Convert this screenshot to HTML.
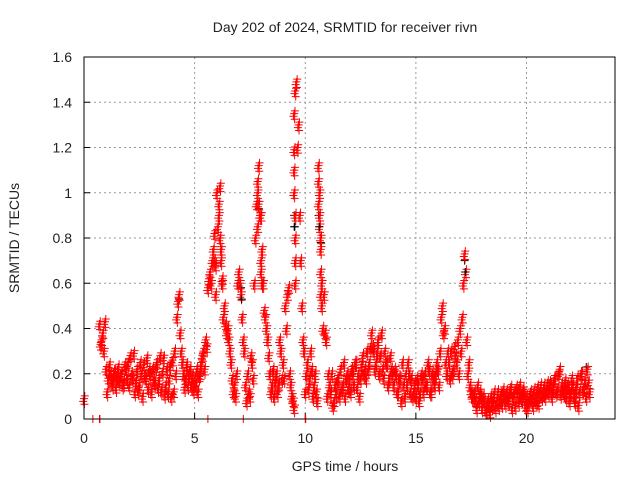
<!DOCTYPE html>
<html><head><meta charset="utf-8"><style>
body{margin:0;background:#fff}svg{display:block}
text{font-family:"Liberation Sans",sans-serif;font-size:14px;fill:#222}
</style></head><body>
<svg id="chart" width="640" height="480">
<text x="345" y="32" text-anchor="middle">Day 202 of 2024, SRMTID for receiver rivn</text>
<text x="345" y="471" text-anchor="middle">GPS time / hours</text>
<text x="19" y="238" text-anchor="middle" transform="rotate(-90 19 238)">SRMTID / TECUs</text>
<g id="grid"></g><g id="axes"></g><g id="marks"></g>
<rect x="84" y="57" width="531" height="362" fill="none" stroke="#000" stroke-width="1"/>
</svg>
<script>
const xTicks=[0,5,10,15,20];
const yTicks=[0,0.2,0.4,0.6,0.8,1,1.2,1.4,1.6];
const yTickLabels=["0","0.2","0.4","0.6","0.8","1","1.2","1.4","1.6"];
const startTime=0.7, timeStep=0.1;
const valuesA=[.42,.35,.30,
.22,.18,.20,.15,.21,.19,.17,.20,.16,.22,
.25,.28,.18,.12,.22,.15,.20,.24,.18,.14,
.20,.22,.16,.25,.18,.13,.27,.15,.12,.24,
.26,.30,.45,.55,.30,.20,.18,.15,.22,.19,
.17,.22,.19,.25,.30,.35,.58,.65,.70,.82,
1.0,.95,.75,.45,.42,.40,.30,.18,.15,.20,
.65,.55,.35,.15,.20,.10,.25,.60,.95,1.12,
.90,.60,.45,.35,.20,.15,.10,.20,.15,.30,
.25,.50,.55,.20,.10,.05,1.49,1.30,.70,.35,
.12,.25,.18,.22,.15,.12,1.12,.80,.40,.38,
.10,.15,.20,.08,.12,.18,.22,.15,.10,.20,
.18,.22,.15,.25,.20,.18,.28,.22,.30,.25,
.38,.30,.25,.35,.28,.22,.30,.25,.18,.22,
.15,.20,.12,.18,.25,.10,.15,.20,.18,.12,
.10,.15,.12,.18,.20,.15,.22,.12,.18,.20,
.22,.30,.50,.40,.20,.25,.30,.22,.28,.35,
.40,.45,.73,.35,.25,.12,.10,.08,.15,.12,
.05,.08,.04,.06,.10,.08,.05,.12,.09,.07,
.10,.12,.08,.14,.10,.06,.12,.15,.09,.11,
.10,.08,.12,.06,.10,.14,.12,.10,.15,.13,
.12,.15,.14,.18,.13,.22,.15,.12,.10,.14,
.12,.15,.08,.18,.12,.20,.14,.10,.16];
const valuesB=[.33,.38,.43,
.12,.24,.17,.21,.14,.23,.20,.15,.24,.18,
.15,.20,.29,.17,.13,.25,.10,.19,.27,.22,
.12,.17,.23,.14,.28,.21,.11,.22,.18,.10,
.12,.20,.52,.38,.25,.14,.24,.20,.15,.13,
.15,.12,.20,.28,.22,.32,.62,.60,.75,.68,
.85,1.03,.60,.50,.38,.35,.25,.12,.10,.60,
.60,.45,.30,.08,.12,.28,.18,.80,1.05,.90,
.75,.48,.40,.28,.12,.22,.17,.12,.35,.18,
.18,.40,.58,.15,.08,1.45,1.20,.90,.50,.30,
.20,.14,.30,.10,.20,.08,1.0,.60,.55,.35,
.20,.12,.06,.15,.18,.10,.13,.25,.18,.14,
.12,.20,.25,.14,.10,.24,.20,.18,.22,.32,
.32,.22,.30,.20,.38,.18,.25,.15,.28,.20,
.22,.12,.18,.08,.15,.20,.25,.12,.10,.16,
.18,.08,.20,.12,.15,.25,.12,.20,.15,.25,
.15,.45,.38,.25,.30,.18,.20,.32,.25,.20,
.30,.60,.65,.20,.15,.10,.12,.05,.08,.10,
.10,.04,.08,.03,.06,.12,.08,.06,.11,.13,
.07,.09,.13,.05,.12,.14,.08,.10,.13,.06,
.05,.11,.09,.13,.08,.07,.15,.12,.10,.16,
.16,.10,.18,.12,.20,.11,.13,.17,.15,.08,
.18,.10,.14,.06,.20,.13,.17,.22,.12];
const extraTimes=[0,0.4,0.7,0.72,5.6,7.2,10,10.02,6.1,6.15,6.2,6.25,7.85,7.85,7.9,9.5,9.5,9.5,9.5,9.55,9.55,9.55,9.55,10.6,10.6,10.65,10.65,10.7,10.7,10.7,10.75,5.9,5.95,8.0,8.05,8.0];
const extraValues=[0.09,0,0,0,0,0,0,0,.9,.8,.7,.62,1.0,.85,.95,1.35,1.19,1.1,1.0,.9,.8,.7,.6,1.05,.95,.9,.85,.75,.65,.55,.5,.7,.55,.7,.6,.65];
const blackTimes=[4.3,7.1,7.9,9.5,9.5,10.6,10.7,17.2,22.7];
const blackValues=[.53,.58,.93,.9,.85,.9,.78,.7,.23];
const X0=84,X1=615,Y0=419,Y1=57,XMAX=24,YMAX=1.6;
const xs=t=>X0+(X1-X0)*t/XMAX;
const ys=v=>Y0-(Y0-Y1)*v/YMAX;
const NS="http://www.w3.org/2000/svg";
const grid=document.getElementById('grid'),axes=document.getElementById('axes'),marks=document.getElementById('marks');
function mk(tag,attrs,parent){const e=document.createElementNS(NS,tag);for(const k in attrs)e.setAttribute(k,attrs[k]);parent.appendChild(e);return e;}
xTicks.forEach(t=>{const x=xs(t);
 if(t>0){const g=mk('line',{x1:x,x2:x,y1:Y1,y2:Y0,stroke:'#999','stroke-dasharray':'2,3'},grid);
 
 }
 const tk=mk('line',{x1:x,x2:x,y1:Y0,y2:Y0-6,stroke:'#000'},axes);
 
 
 const tx=mk('text',{x:x,y:443,'text-anchor':'middle'},axes);tx.textContent=t;
 
 });
yTicks.forEach((v,i)=>{const y=ys(v);
 if(v>0&&v<YMAX){const g=mk('line',{x1:X0,x2:X1,y1:y,y2:y,stroke:'#999','stroke-dasharray':'2,3'},grid);
 
 }
 const tk=mk('line',{x1:X0,x2:X0+6,y1:y,y2:y,stroke:'#000'},axes);
 
 
 const tx=mk('text',{x:72,y:y+5,'text-anchor':'end'},axes);tx.textContent=yTickLabels[i];
 
 });
function cross(t,v,color,name){const x=xs(t),y=ys(v);
 const p=mk('path',{d:`M${x-4},${y}H${x+4}M${x},${y-4}V${y+4}`,stroke:color,'stroke-width':1,fill:'none'},marks);
 
 }
// each sample is drawn as a tight cluster of markers (dense 30-s data)
function cluster(t,v,color,name){cross(t,v,color,name);
 if(v>0){cross(t+0.035,v+0.012,color,name);cross(t-0.035,v-0.012,color,name);cross(t+0.02,v-0.025,color,name);}}
blackTimes.forEach((t,i)=>cross(t,blackValues[i],'#000','black-point'));
valuesA.forEach((v,i)=>cluster(startTime+i*timeStep,v,'#f00','srmtid-point'));
valuesB.forEach((v,i)=>cluster(startTime+i*timeStep+0.05,v,'#f00','srmtid-point'));
extraTimes.forEach((t,i)=>cluster(t,extraValues[i],'#f00','srmtid-point'));
blackTimes.forEach((t,i)=>{if(i%2)cross(t+0.03,blackValues[i]-0.05,'#000','black-point');});
</script>
</body></html>
